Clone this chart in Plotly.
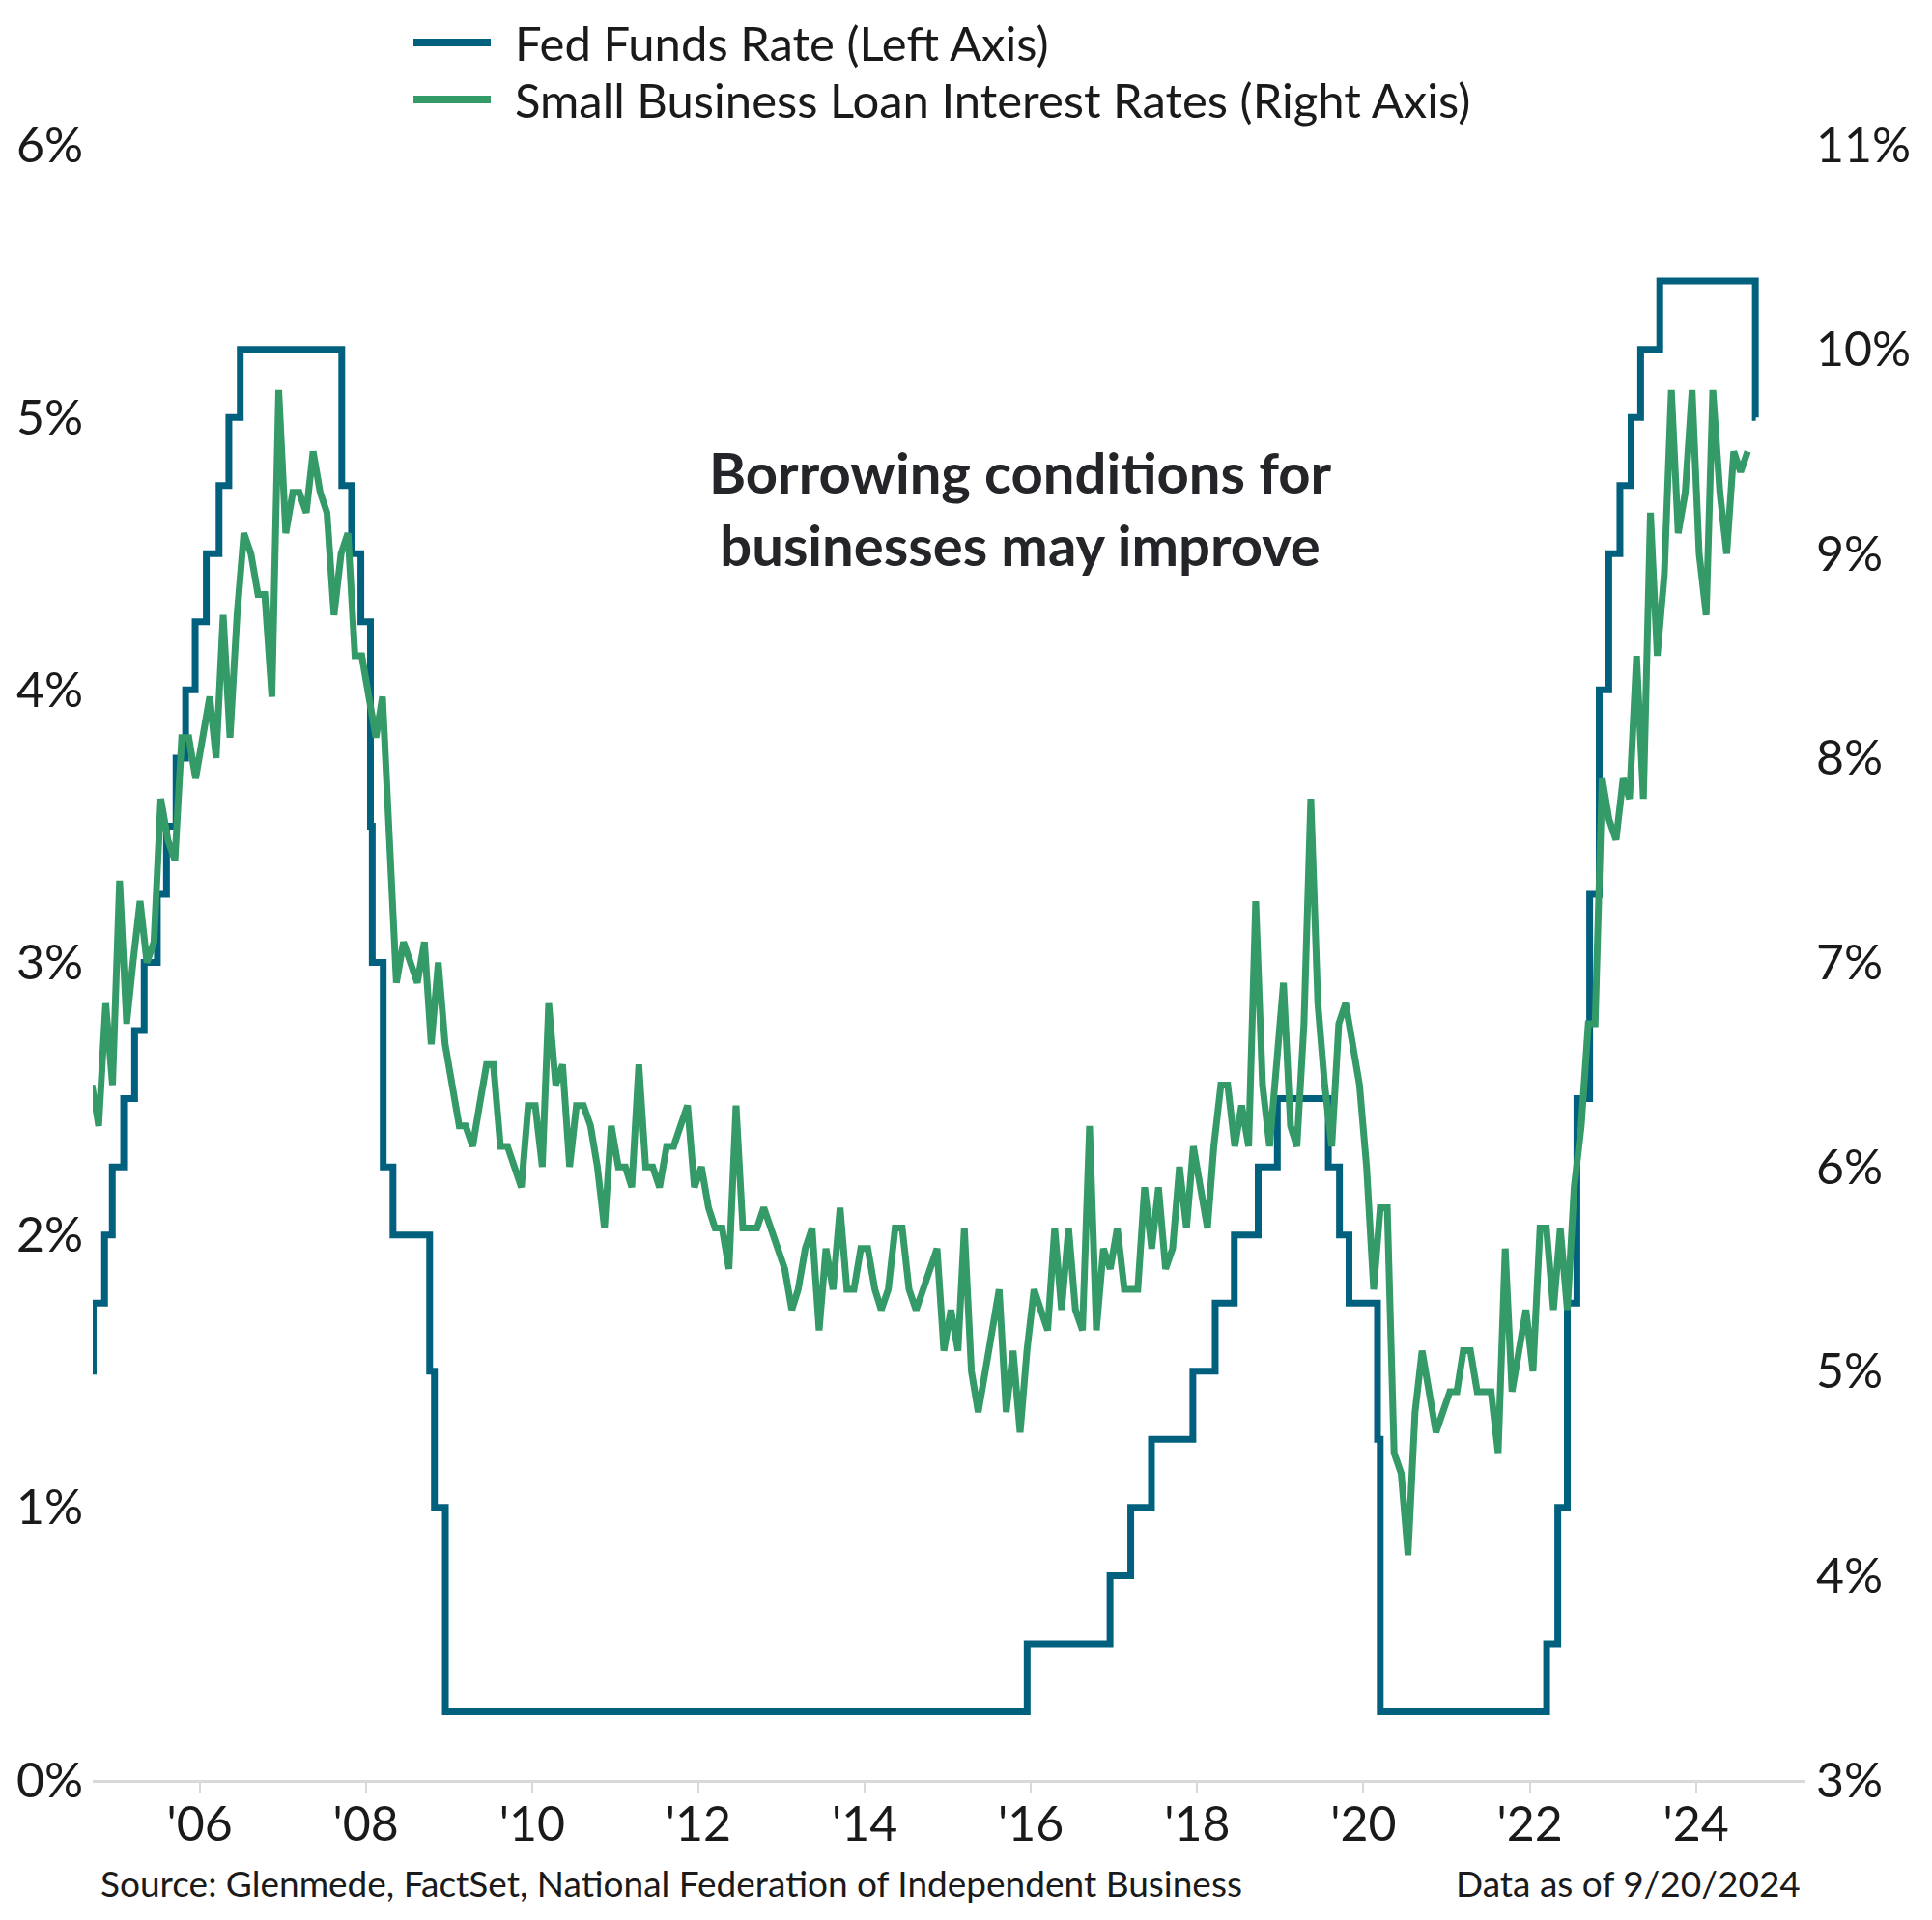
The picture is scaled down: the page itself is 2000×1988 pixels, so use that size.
import pandas as pd
import plotly.graph_objects as go

# Fed funds target (upper bound), change dates and new level, %
ffr_dates = [
    "2004-09-19", "2004-09-21", "2004-11-10", "2004-12-14", "2005-02-02", "2005-03-22",
    "2005-05-03", "2005-06-30", "2005-08-09", "2005-09-20", "2005-11-01", "2005-12-13",
    "2006-01-31", "2006-03-28", "2006-05-10", "2006-06-29", "2007-09-18", "2007-10-31",
    "2007-12-11", "2008-01-22", "2008-01-30", "2008-03-18", "2008-04-30", "2008-10-08",
    "2008-10-29", "2008-12-16", "2015-12-16", "2016-12-14", "2017-03-15", "2017-06-14",
    "2017-12-13", "2018-03-21", "2018-06-13", "2018-09-26", "2018-12-19", "2019-07-31",
    "2019-09-18", "2019-10-30", "2020-03-03", "2020-03-15", "2022-03-16", "2022-05-04",
    "2022-06-15", "2022-07-27", "2022-09-21", "2022-11-02", "2022-12-14", "2023-02-01",
    "2023-03-22", "2023-05-03", "2023-07-26", "2024-09-18", "2024-09-20",
]
ffr_rates = [
    1.50, 1.75, 2.00, 2.25, 2.50, 2.75,
    3.00, 3.25, 3.50, 3.75, 4.00, 4.25,
    4.50, 4.75, 5.00, 5.25, 4.75, 4.50,
    4.25, 3.50, 3.00, 2.25, 2.00, 1.50,
    1.00, 0.25, 0.50, 0.75, 1.00, 1.25,
    1.50, 1.75, 2.00, 2.25, 2.50, 2.25,
    2.00, 1.75, 1.25, 0.25, 0.50, 1.00,
    1.75, 2.50, 3.25, 4.00, 4.50, 4.75,
    5.00, 5.25, 5.50, 5.00, 5.00,
]

# NFIB average rate on short-term loans, monthly Sep 2004 - Aug 2024, %
loan_rates = [
    6.4, 6.2, 6.8, 6.4,
    7.4, 6.7, 7.0, 7.3, 7.0, 7.1, 7.8, 7.6, 7.5, 8.1, 8.1, 7.9,
    8.1, 8.3, 8.0, 8.7, 8.1, 8.7, 9.1, 9.0, 8.8, 8.8, 8.3, 9.8,
    9.1, 9.3, 9.3, 9.2, 9.5, 9.3, 9.2, 8.7, 9.0, 9.1, 8.5, 8.5,
    8.3, 8.1, 8.3, 7.6, 6.9, 7.1, 7.0, 6.9, 7.1, 6.6, 7.0, 6.6,
    6.4, 6.2, 6.2, 6.1, 6.3, 6.5, 6.5, 6.1, 6.1, 6.0, 5.9, 6.3,
    6.3, 6.0, 6.8, 6.4, 6.5, 6.0, 6.3, 6.3, 6.2, 6.0, 5.7, 6.2,
    6.0, 6.0, 5.9, 6.5, 6.0, 6.0, 5.9, 6.1, 6.1, 6.2, 6.3, 5.9,
    6.0, 5.8, 5.7, 5.7, 5.5, 6.3, 5.7, 5.7, 5.7, 5.8, 5.7, 5.6,
    5.5, 5.3, 5.4, 5.6, 5.7, 5.2, 5.6, 5.4, 5.8, 5.4, 5.4, 5.6,
    5.6, 5.4, 5.3, 5.4, 5.7, 5.7, 5.4, 5.3, 5.4, 5.5, 5.6, 5.1,
    5.3, 5.1, 5.7, 5.0, 4.8, 5.0, 5.2, 5.4, 4.8, 5.1, 4.7, 5.1,
    5.4, 5.3, 5.2, 5.7, 5.3, 5.7, 5.3, 5.2, 6.2, 5.2, 5.6, 5.5,
    5.7, 5.4, 5.4, 5.4, 5.9, 5.6, 5.9, 5.5, 5.6, 6.0, 5.7, 6.1,
    5.9, 5.7, 6.1, 6.4, 6.4, 6.1, 6.3, 6.1, 7.3, 6.4, 6.1, 6.5,
    6.9, 6.2, 6.1, 6.7, 7.8, 6.8, 6.4, 6.1, 6.7, 6.8, 6.6, 6.4,
    6.0, 5.4, 5.8, 5.8, 4.6, 4.5, 4.1, 4.8, 5.1, 4.9, 4.7, 4.8,
    4.9, 4.9, 5.1, 5.1, 4.9, 4.9, 4.9, 4.6, 5.6, 4.9, 5.1, 5.3,
    5.0, 5.7, 5.7, 5.3, 5.7, 5.3, 5.9, 6.2, 6.7, 6.7, 7.9, 7.7,
    7.6, 7.9, 7.8, 8.5, 7.8, 9.2, 8.5, 8.9, 9.8, 9.1, 9.3, 9.8,
    9.0, 8.7, 9.8, 9.3, 9.0, 9.5, 9.4, 9.5,
]
# survey readings land around mid-month
loan_dates = pd.date_range("2004-09-01", periods=len(loan_rates), freq="MS") + pd.Timedelta(days=14)

year_ticks = [f"{y}-01-01" for y in range(2006, 2025, 2)]
year_labels = [f"'{str(y)[2:]}" for y in range(2006, 2025, 2)]

BLUE = "#02607F"
GREEN = "#349A67"
FONT = "Lato"
TXT = "#1a1a1a"

fig = go.Figure()
fig.add_trace(go.Scatter(
    x=ffr_dates, y=ffr_rates, mode="lines", line_shape="hv",
    line=dict(color=BLUE, width=7), name="Fed Funds Rate (Left Axis)",
))
fig.add_trace(go.Scatter(
    x=loan_dates, y=loan_rates, mode="lines", yaxis="y2",
    line=dict(color=GREEN, width=7), name="Small Business Loan Interest Rates (Right Axis)",
))

fig.update_layout(
    width=2000, height=1988,
    margin=dict(l=96, r=131, t=150, b=145),
    paper_bgcolor="white", plot_bgcolor="white",
    showlegend=False,
    font=dict(family=FONT, size=50, color=TXT),
    xaxis=dict(
        type="date", range=["2004-09-19", "2025-04-26"],
        tickvals=year_ticks, ticktext=year_labels,
        showgrid=False, zeroline=False,
        showline=True, linecolor="#d9d9d9", linewidth=3,
        ticks="outside", ticklen=10, tickwidth=2, tickcolor="#d9d9d9",
        tickfont=dict(size=50), ticklabelstandoff=-10,
    ),
    yaxis=dict(
        range=[0, 6], dtick=1, ticksuffix="%",
        showgrid=False, zeroline=False, showline=False,
        tickfont=dict(size=50), ticklabelstandoff=9,
    ),
    yaxis2=dict(
        range=[3, 11], dtick=1, ticksuffix="%", overlaying="y", side="right",
        showgrid=False, zeroline=False, showline=False,
        tickfont=dict(size=50), ticklabelstandoff=10,
    ),
)

# legend drawn by hand so the line samples can be long like the original
legend_rows = [("Fed Funds Rate (Left Axis)", BLUE, 44), ("Small Business Loan Interest Rates (Right Axis)", GREEN, 103)]
px_w, px_h = 2000 - 96 - 131, 1988 - 150 - 145
for label, color, ypx in legend_rows:
    yp = (1843 - ypx) / px_h
    fig.add_shape(type="line", xref="paper", yref="paper",
                  x0=(428 - 96) / px_w, x1=(508 - 96) / px_w, y0=yp, y1=yp,
                  line=dict(color=color, width=8))
    fig.add_annotation(xref="paper", yref="paper", x=(532 - 96) / px_w, y=yp,
                       text=label, showarrow=False, xanchor="left", yanchor="middle",
                       borderpad=0, font=dict(size=49, color=TXT))

fig.add_annotation(
    xref="paper", yref="paper", x=(1056 - 96) / px_w, y=(1843 - 526) / px_h,
    text="<b>Borrowing conditions for<br>businesses may improve</b>",
    showarrow=False, align="center", xanchor="center", yanchor="middle",
    font=dict(size=58, color="#232528"),
)
fig.add_annotation(
    xref="paper", yref="paper", x=(102 - 96) / px_w, y=(1843 - 1949) / px_h,
    text="Source: Glenmede, FactSet, National Federation of Independent Business",
    showarrow=False, xanchor="left", yanchor="middle", font=dict(size=37, color=TXT),
)
fig.add_annotation(
    xref="paper", yref="paper", x=(1866 - 96) / px_w, y=(1843 - 1949) / px_h,
    text="Data as of 9/20/2024",
    showarrow=False, xanchor="right", yanchor="middle", font=dict(size=37, color=TXT),
)

fig.write_html("out.html", config={"displayModeBar": False},
               post_script="document.body.style.margin='0';")
